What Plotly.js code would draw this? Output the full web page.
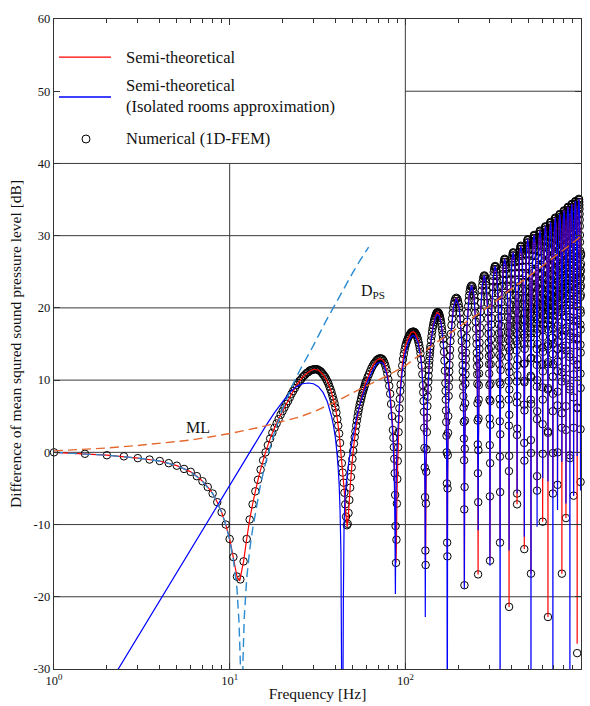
<!DOCTYPE html>
<html>
<head>
<meta charset="utf-8">
<script src="https://cdn.plot.ly/plotly-3.0.1.min.js"></script>
<style>
  html, body { margin: 0; padding: 0; background: #fff; }
  #chart { width: 590px; height: 706px; }
</style>
</head>
<body>
<div id="chart"></div>
<script>
// ---------------------------------------------------------------
// Level difference between the two rooms, [frequency Hz, dB] pairs
// ---------------------------------------------------------------

// Numerical (1D-FEM) results, low range (mass-spring-mass dip and first lobe)
const femLow = [
  [1,0.0],[1.5,-0.2],[2,-0.4],[2.5,-0.55],[3,-0.8],[3.5,-1.0],[4,-1.2],[4.5,-1.5],[5,-1.85],[5.5,-2.3],
  [6,-2.7],[6.5,-3.3],[7,-4.0],[7.5,-4.8],[8,-5.7],[8.5,-6.9],[9,-8.3],[9.5,-10.0],[10,-12.0],[10.5,-14.5],
  [11,-17.2],[11.5,-17.6],[12,-15.1],[12.5,-12.0],[13,-9.3],[13.5,-7.2],[14,-5.4],[14.5,-3.8],[15,-2.4],[15.5,-1.1],
  [16,0.0],[16.5,1.0],[17,1.9],[17.5,2.7],[18,3.4],[18.5,4.0],[19,4.6],[19.5,5.2],[20,5.7],[20.5,6.2],
  [21,6.7],[21.5,7.1],[22,7.6],[22.5,8.1],[23,8.5],[23.5,8.9],[24,9.3],[24.5,9.6],[25,9.9],[25.5,10.1],
  [26,10.4],[26.5,10.6],[27,10.8],[27.5,11.0],[28,11.1],[28.5,11.3],[29,11.4],[29.5,11.4],[30,11.5],[30.5,11.5],
  [31,11.5],[31.5,11.5],[32,11.4],[32.5,11.3],[33,11.2],[33.5,11.0],[34,10.8],[34.5,10.6],[35,10.4],[35.5,10.1],
  [36,9.8],[36.5,9.5],[37,9.1],[37.5,8.7],[38,8.3],[38.5,7.8],[39,7.3],[39.5,6.8],[40,6.2],[40.5,5.5],
  [41,4.6],[41.5,3.7],[42,2.6],[42.5,1.3],[43,-0.2],[43.5,-1.5],[44,-2.8],[44.5,-4.2],[45,-5.6],[45.5,-7.2],
  [46,-8.9],[46.5,-10.1]
];

// Numerical results, lobes 2 to 4
const femMid = [
  [47,-9.9],[47.5,-8.4],[48,-6.6],[48.5,-4.9],[49,-3.4],[49.5,-2.1],[50,-0.9],[50.5,0.2],[51,1.2],[51.5,2.1],
  [52,2.9],[52.5,3.7],[53,4.4],[53.5,5.0],[54,5.6],[54.5,6.1],[55,6.6],[55.5,7.0],[56,7.4],[56.5,7.8],
  [57,8.2],[57.5,8.5],[58,8.8],[58.5,9.1],[59,9.4],[59.5,9.7],[60,9.9],[61,10.4],[62,10.8],[63,11.2],
  [64,11.6],[65,11.9],[66,12.2],[67,12.4],[68,12.6],[69,12.8],[70,12.9],[71,13.0],[72,13.0],[73,13.0],
  [74,12.9],[75,12.7],[76,12.4],[77,12.0],[78,11.5],[79,10.9],[80,10.1],[81,9.2],[82,8.1],[83,6.7],
  [84,5.0],[85,3.1],[85.5,2.0],[86,0.7],[86.5,-0.9],[87,-2.9],[87.5,-5.9],[88,-10.2],[88.5,-15.3],
  [89,-12.1],[89.5,-7.1],[90,-3.7],[90.5,-1.2],[91,0.7],[91.5,2.8],[92,4.6],[92.5,6.1],[93,7.4],[93.5,8.5],
  [94,9.4],[95,10.9],[96,12.0],[97,12.9],[98,13.6],[99,14.2],[100,14.7],[101,15.05],[102,15.4],[103,15.65],
  [104,15.9],[105,16.1],[106,16.3],[107,16.45],[108,16.6],[109,16.65],[110,16.7],[111,16.7],[112,16.7],[113,16.6],
  [114,16.5],[115,16.35],[116,16.2],[117,15.9],[118,15.6],[119,15.2],[120,14.8],[121,14.3],[122,13.7],[123,12.9],
  [124,12.0],[125,10.8],[126,9.3],[126.5,8.3],[127,7.1],[127.5,5.6],[128,3.4],[128.5,0.6],[129,-2.1],[129.5,-6.2],
  [130,-13.6],[130.5,-15.6],
  [131,-7.1],[131.5,-2.7],[132,0.4],[132.5,2.8],[133,4.8],[133.5,6.4],[134,7.7],[134.5,8.8],[135,9.8],[135.5,10.6],
  [136,11.4],[136.5,12.1],[137,12.7],[137.5,13.3],[138,13.8],[138.5,14.3],[139,14.7],[140,15.5],[141,16.1],[142,16.7],
  [143,17.2],[144,17.6],[145,18.0],[146,18.3],[147,18.55],[148,18.8],[149,19.0],[150,19.2],[151,19.3],[152,19.4],
  [153,19.4],[154,19.35],[155,19.25],[156,19.1],[157,18.85],[158,18.6],[159,18.3],[160,17.9],[161,17.4],[162,16.9],
  [163,16.3],[164,15.7],[165,14.9],[166,13.9],[167,12.7],[168,11.3],[169,9.6],[169.5,8.5],[170,7.3],[170.5,5.8],
  [171,4.2],[171.5,2.3],[172,0.0],[172.5,-4.3],[173,-12.5]
];

// Numerical results, 173.5 Hz to 1 kHz, one row block per lobe
const femHigh = [
  // 173.5 - 216.7 Hz
  [173.5,-14.4],[174,-5.0],[174.5,-0.4],[175,2.7],[175.5,5.0],
  [176.4,7.8],[176.9,9.1],[177.3,10.2],[177.8,11.2],[178.3,12.1],[179.0,13.3],[179.7,14.2],[180.7,15.4],[181.7,16.4],[183.1,17.6],
  [184.5,18.5],[186.0,19.3],[187.4,20.0],[189.1,20.55],[190.8,20.96],[192.7,21.27],[195.1,21.4],[197.5,21.27],[199.4,20.96],[201.1,20.55],[202.8,20.0],[204.2,19.3],[205.7,18.5],
  [207.1,17.6],[208.5,16.4],[209.5,15.4],[210.5,14.2],[211.2,13.3],[211.9,12.1],[212.4,11.2],[212.9,10.2],[213.3,9.1],[213.8,7.8],
  [214.5,6.2],[215,4.2],[215.5,1.9],[216,-1.1],[216.5,-7.9],
  // 216.7 - 259.9 Hz
  [217,-18.4],[217.5,-4.8],[218,0.5],[218.5,4.4],[219,6.8],
  [219.6,9.5],[220.1,10.8],[220.5,11.9],[221.0,12.9],[221.5,13.8],[222.2,15.0],[222.9,15.9],[223.9,17.1],[224.9,18.1],[226.3,19.3],
  [227.7,20.2],[229.2,21.0],[230.6,21.7],[232.3,22.25],[234.0,22.66],[235.9,22.97],[238.3,23.1],[240.7,22.97],[242.6,22.66],[244.3,22.25],[246.0,21.7],[247.4,21.0],[248.9,20.2],
  [250.3,19.3],[251.7,18.1],[252.7,17.1],[253.7,15.9],[254.4,15.0],[255.1,13.8],[255.6,12.9],[256.1,11.9],[256.5,10.8],[257.0,9.5],
  [257.5,6.8],[258,4.4],[258.5,1.1],[259,-2.9],[259.5,-16.9],
  // 259.9 - 303.1 Hz
  [260,-6.9],[260.5,0.3],[261,4.7],[261.5,7.3],[262,9.3],
  [262.8,10.9],[263.3,12.2],[263.7,13.3],[264.2,14.3],[264.7,15.2],[265.4,16.4],[266.1,17.3],[267.1,18.5],[268.1,19.5],[269.5,20.7],
  [270.9,21.6],[272.4,22.4],[273.8,23.1],[275.5,23.65],[277.2,24.06],[279.1,24.37],[281.5,24.5],[283.9,24.37],[285.8,24.06],[287.5,23.65],[289.2,23.1],[290.6,22.4],[292.1,21.6],
  [293.5,20.7],[294.9,19.5],[295.9,18.5],[296.9,17.3],[297.6,16.4],[298.3,15.2],[298.8,14.3],[299.3,13.3],[299.7,12.2],[300.2,10.9],
  [301,9.3],[301.5,7.3],[302,4.7],[302.5,1.0],[303,-6.1],
  // 303.1 - 346.3 Hz
  [303.5,-15.0],[304,-1.5],[304.5,3.8],[305,7.1],[305.5,9.5],
  [306.0,12.2],[306.5,13.5],[306.9,14.6],[307.4,15.6],[307.9,16.5],[308.6,17.7],[309.3,18.6],[310.3,19.8],[311.3,20.8],[312.7,22.0],
  [314.1,22.9],[315.6,23.7],[317.0,24.4],[318.7,24.95],[320.4,25.36],[322.3,25.67],[324.7,25.8],[327.1,25.67],[329.0,25.36],[330.7,24.95],[332.4,24.4],[333.8,23.7],[335.3,22.9],
  [336.7,22.0],[338.1,20.8],[339.1,19.8],[340.1,18.6],[340.8,17.7],[341.5,16.5],[342.0,15.6],[342.5,14.6],[342.9,13.5],[343.4,12.2],
  [344,9.7],[344.5,7.4],[345,4.3],[345.5,-0.6],[346,-12.5],
  // 346.3 - 389.5 Hz
  [346.5,-5.5],[347,2.5],[347.5,6.6],[348,9.4],[348.5,11.4],
  [349.2,13.2],[349.7,14.5],[350.1,15.6],[350.6,16.6],[351.1,17.5],[351.8,18.7],[352.5,19.6],[353.5,20.8],[354.5,21.8],[355.9,23.0],
  [357.3,23.9],[358.8,24.7],[360.2,25.4],[361.9,25.95],[363.6,26.36],[365.5,26.67],[367.9,26.8],[370.3,26.67],[372.2,26.36],[373.9,25.95],[375.6,25.4],[377.0,24.7],[378.5,23.9],
  [379.9,23.0],[381.3,21.8],[382.3,20.8],[383.3,19.6],[384.0,18.7],[384.7,17.5],[385.2,16.6],[385.7,15.6],[386.1,14.5],[386.6,13.2],
  [387,11.9],[387.5,9.9],[388,7.3],[388.5,3.7],[389,-2.6],
  // 389.5 - 432.7 Hz
  [389.5,-21.4],[390,-0.5],[390.5,5.2],[391,8.7],[391.5,11.1],
  [392.4,14.1],[392.9,15.4],[393.3,16.5],[393.8,17.5],[394.3,18.4],[395.0,19.6],[395.7,20.5],[396.7,21.7],[397.7,22.7],[399.1,23.9],
  [400.5,24.8],[402.0,25.6],[403.4,26.3],[405.1,26.85],[406.8,27.26],[408.7,27.57],[411.1,27.7],[413.5,27.57],[415.4,27.26],[417.1,26.85],[418.8,26.3],[420.2,25.6],[421.7,24.8],
  [423.1,23.9],[424.5,22.7],[425.5,21.7],[426.5,20.5],[427.2,19.6],[427.9,18.4],[428.4,17.5],[428.9,16.5],[429.3,15.4],[429.8,14.1],
  [430.5,12.0],[431,9.8],[431.5,6.9],[432,2.4],[432.5,-7.2],
  // 432.7 - 475.9 Hz
  [433,-5.7],[433.5,3.3],[434,7.8],[434.5,10.7],[435,12.9],
  [435.6,15.0],[436.1,16.3],[436.5,17.4],[437.0,18.4],[437.5,19.3],[438.2,20.5],[438.9,21.4],[439.9,22.6],[440.9,23.6],[442.3,24.8],
  [443.7,25.7],[445.2,26.5],[446.6,27.2],[448.3,27.75],[450.0,28.16],[451.9,28.47],[454.3,28.6],[456.7,28.47],[458.6,28.16],[460.3,27.75],[462.0,27.2],[463.4,26.5],[464.9,25.7],
  [466.3,24.8],[467.7,23.6],[468.7,22.6],[469.7,21.4],[470.4,20.5],[471.1,19.3],[471.6,18.4],[472.1,17.4],[472.5,16.3],[473.0,15.0],
  [473.5,12.25],[474,9.9],[474.5,6.6],[475,1.3],[475.5,-13.4],
  // 475.9 - 519.1 Hz
  [476,-1.15],[476.5,5.8],[477,9.7],[477.5,12.3],[478,14.3],
  [478.8,15.9],[479.3,17.2],[479.7,18.3],[480.2,19.3],[480.7,20.2],[481.4,21.4],[482.1,22.3],[483.1,23.5],[484.1,24.5],[485.5,25.7],
  [486.9,26.6],[488.4,27.4],[489.8,28.1],[491.5,28.65],[493.2,29.06],[495.1,29.37],[497.5,29.5],[499.9,29.37],[501.8,29.06],[503.5,28.65],[505.2,28.1],[506.6,27.4],[508.1,26.6],
  [509.5,25.7],[510.9,24.5],[511.9,23.5],[512.9,22.3],[513.6,21.4],[514.3,20.2],[514.8,19.3],[515.3,18.3],[515.7,17.2],[516.2,15.9],
  [517,13.0],[517.5,10.6],[518,7.3],[518.5,1.7],[519,-16.8],
  // 519.1 - 562.3 Hz
  [519.5,-0.1],[520,6.7],[520.5,10.4],[521,13.1],[521.5,15.05],
  [522.0,16.5],[522.5,17.8],[522.9,18.9],[523.4,19.9],[523.9,20.8],[524.6,22.0],[525.3,22.9],[526.3,24.1],[527.3,25.1],[528.7,26.3],
  [530.1,27.2],[531.6,28.0],[533.0,28.7],[534.7,29.25],[536.4,29.66],[538.3,29.97],[540.7,30.1],[543.1,29.97],[545.0,29.66],[546.7,29.25],[548.4,28.7],[549.8,28.0],[551.3,27.2],
  [552.7,26.3],[554.1,25.1],[555.1,24.1],[556.1,22.9],[556.8,22.0],[557.5,20.8],[558.0,19.9],[558.5,18.9],[558.9,17.8],[559.4,16.5],
  [560,14.3],[560.5,12.1],[561,9.1],[561.5,4.6],[562,-5.3],
  // 562.3 - 605.5 Hz
  [562.5,-3.3],[563,5.7],[563.5,10.0],[564,12.9],[564.5,15.0],
  [565.2,17.1],[565.7,18.4],[566.1,19.5],[566.6,20.5],[567.1,21.4],[567.8,22.6],[568.5,23.5],[569.5,24.7],[570.5,25.7],[571.9,26.9],
  [573.3,27.8],[574.8,28.6],[576.2,29.3],[577.9,29.85],[579.6,30.26],[581.5,30.57],[583.9,30.7],[586.3,30.57],[588.2,30.26],[589.9,29.85],[591.6,29.3],[593.0,28.6],[594.5,27.8],
  [595.9,26.9],[597.3,25.7],[598.3,24.7],[599.3,23.5],[600.0,22.6],[600.7,21.4],[601.2,20.5],[601.7,19.5],[602.1,18.4],[602.6,17.1],
  [603,14.5],[603.5,12.2],[604,9.0],[604.5,3.9],[605,-9.6],
  // 605.5 - 648.7 Hz
  [605.5,-0.2],[606,7.3],[606.5,11.2],[607,13.9],[607.5,16.0],
  [608.4,17.7],[608.9,19.0],[609.3,20.1],[609.8,21.1],[610.3,22.0],[611.0,23.2],[611.7,24.1],[612.7,25.3],[613.7,26.3],[615.1,27.5],
  [616.5,28.4],[618.0,29.2],[619.4,29.9],[621.1,30.45],[622.8,30.86],[624.7,31.17],[627.1,31.3],[629.5,31.17],[631.4,30.86],[633.1,30.45],[634.8,29.9],[636.2,29.2],[637.7,28.4],
  [639.1,27.5],[640.5,26.3],[641.5,25.3],[642.5,24.1],[643.2,23.2],[643.9,22.0],[644.4,21.1],[644.9,20.1],[645.3,19.0],[645.8,17.7],
  [646.5,14.7],[647,12.2],[647.5,8.7],[648,2.9],[648.5,-22.8],
  // 648.7 - 691.9 Hz
  [649,2.7],[649.5,8.9],[650,12.5],[650.5,15.0],[651,17.0],
  [651.6,18.3],[652.1,19.6],[652.5,20.7],[653.0,21.7],[653.5,22.6],[654.2,23.8],[654.9,24.7],[655.9,25.9],[656.9,26.9],[658.3,28.1],
  [659.7,29.0],[661.2,29.8],[662.6,30.5],[664.3,31.05],[666.0,31.46],[667.9,31.77],[670.3,31.9],[672.7,31.77],[674.6,31.46],[676.3,31.05],[678.0,30.5],[679.4,29.8],[680.9,29.0],
  [682.3,28.1],[683.7,26.9],[684.7,25.9],[685.7,24.7],[686.4,23.8],[687.1,22.6],[687.6,21.7],[688.1,20.7],[688.5,19.6],[689.0,18.3],
  [689.5,15.9],[690,13.6],[690.5,10.5],[691,5.7],[691.5,-5.7],
  // 691.9 - 735.1 Hz
  [692,-0.1],[692.5,8.1],[693,12.2],[693.5,15.0],[694,17.1],
  [694.8,18.9],[695.3,20.2],[695.7,21.3],[696.2,22.3],[696.7,23.2],[697.4,24.4],[698.1,25.3],[699.1,26.5],[700.1,27.5],[701.5,28.7],
  [702.9,29.6],[704.4,30.4],[705.8,31.1],[707.5,31.65],[709.2,32.06],[711.1,32.37],[713.5,32.5],[715.9,32.37],[717.8,32.06],[719.5,31.65],[721.2,31.1],[722.6,30.4],[724.1,29.6],
  [725.5,28.7],[726.9,27.5],[727.9,26.5],[728.9,25.3],[729.6,24.4],[730.3,23.2],[730.8,22.3],[731.3,21.3],[731.7,20.2],[732.2,18.9],
  [733,16.5],[733.5,14.3],[734,11.25],[734.5,6.5],[735,-4.5],
  // 735.1 - 778.3 Hz
  [735.5,0.0],[736,8.4],[736.5,12.55],[737,15.4],[737.5,17.5],
  [738.0,19.4],[738.5,20.7],[738.9,21.8],[739.4,22.8],[739.9,23.7],[740.6,24.9],[741.3,25.8],[742.3,27.0],[743.3,28.0],[744.7,29.2],
  [746.1,30.1],[747.6,30.9],[749.0,31.6],[750.7,32.15],[752.4,32.56],[754.3,32.87],[756.7,33.0],[759.1,32.87],[761.0,32.56],[762.7,32.15],[764.4,31.6],[765.8,30.9],[767.3,30.1],
  [768.7,29.2],[770.1,28.0],[771.1,27.0],[772.1,25.8],[772.8,24.9],[773.5,23.7],[774.0,22.8],[774.5,21.8],[774.9,20.7],[775.4,19.4],
  [776,18.0],[776.5,16.1],[777,13.5],[777.5,9.8],[778,3.4],
  // 778.3 - 821.5 Hz
  [778.5,-16.8],[779,5.4],[779.5,11.1],[780,14.5],[780.5,16.9],
  [781.2,19.9],[781.7,21.2],[782.1,22.3],[782.6,23.3],[783.1,24.2],[783.8,25.4],[784.5,26.3],[785.5,27.5],[786.5,28.5],[787.9,29.7],
  [789.3,30.6],[790.8,31.4],[792.2,32.1],[793.9,32.65],[795.6,33.06],[797.5,33.37],[799.9,33.5],[802.3,33.37],[804.2,33.06],[805.9,32.65],[807.6,32.1],[809.0,31.4],[810.5,30.6],
  [811.9,29.7],[813.3,28.5],[814.3,27.5],[815.3,26.3],[816.0,25.4],[816.7,24.2],[817.2,23.3],[817.7,22.3],[818.1,21.2],[818.6,19.9],
  [819,17.2],[819.5,14.8],[820,11.6],[820.5,6.4],[821,-9.1],
  // 821.5 - 864.7 Hz
  [821.5,3.1],[822,10.2],[822.5,14.1],[823,16.8],[823.5,18.8],
  [824.4,20.4],[824.9,21.7],[825.3,22.8],[825.8,23.8],[826.3,24.7],[827.0,25.9],[827.7,26.8],[828.7,28.0],[829.7,29.0],[831.1,30.2],
  [832.5,31.1],[834.0,31.9],[835.4,32.6],[837.1,33.15],[838.8,33.56],[840.7,33.87],[843.1,34.0],[845.5,33.87],[847.4,33.56],[849.1,33.15],[850.8,32.6],[852.2,31.9],[853.7,31.1],
  [855.1,30.2],[856.5,29.0],[857.5,28.0],[858.5,26.8],[859.2,25.9],[859.9,24.7],[860.4,23.8],[860.9,22.8],[861.3,21.7],[861.8,20.4],
  [862.5,18.3],[863,16.1],[863.5,13.2],[864,8.7],[864.5,-0.8],
  // 864.7 - 907.9 Hz
  [865,-0.4],[865.5,9.1],[866,13.6],[866.5,16.5],[867,18.7],
  [867.6,20.8],[868.1,22.1],[868.5,23.2],[869.0,24.2],[869.5,25.1],[870.2,26.3],[870.9,27.2],[871.9,28.4],[872.9,29.4],[874.3,30.6],
  [875.7,31.5],[877.2,32.3],[878.6,33.0],[880.3,33.55],[882.0,33.96],[883.9,34.27],[886.3,34.4],[888.7,34.27],[890.6,33.96],[892.3,33.55],[894.0,33.0],[895.4,32.3],[896.9,31.5],
  [898.3,30.6],[899.7,29.4],[900.7,28.4],[901.7,27.2],[902.4,26.3],[903.1,25.1],[903.6,24.2],[904.1,23.2],[904.5,22.1],[905.0,20.8],
  [905.5,18.2],[906,15.9],[906.5,12.7],[907,7.6],[907.5,-6.0],
  // 907.9 - 951.1 Hz
  [908,3.4],[908.5,10.8],[909,14.8],[909.5,17.5],[910,19.5],
  [910.8,21.2],[911.3,22.5],[911.7,23.6],[912.2,24.6],[912.7,25.5],[913.4,26.7],[914.1,27.6],[915.1,28.8],[916.1,29.8],[917.5,31.0],
  [918.9,31.9],[920.4,32.7],[921.8,33.4],[923.5,33.95],[925.2,34.36],[927.1,34.67],[929.5,34.8],[931.9,34.67],[933.8,34.36],[935.5,33.95],[937.2,33.4],[938.6,32.7],[940.1,31.9],
  [941.5,31.0],[942.9,29.8],[943.9,28.8],[944.9,27.6],[945.6,26.7],[946.3,25.5],[946.8,24.6],[947.3,23.6],[947.7,22.5],[948.2,21.2],
  [949,18.1],[949.5,15.6],[950,12.1],[950.5,6.2],[951,-27.8],
  // 951.1 - 994.3 Hz
  [951.5,6.1],[952,12.2],[952.5,15.8],[953,18.3],[953.5,20.2],
  [954.0,21.5],[954.5,22.8],[954.9,23.9],[955.4,24.9],[955.9,25.8],[956.6,27.0],[957.3,27.9],[958.3,29.1],[959.3,30.1],[960.7,31.3],
  [962.1,32.2],[963.6,33.0],[965.0,33.7],[966.7,34.25],[968.4,34.66],[970.3,34.97],[972.7,35.1],[975.1,34.97],[977.0,34.66],[978.7,34.25],[980.4,33.7],[981.8,33.0],[983.3,32.2],
  [984.7,31.3],[986.1,30.1],[987.1,29.1],[988.1,27.9],[988.8,27.0],[989.5,25.8],[990.0,24.9],[990.5,23.9],[990.9,22.8],[991.4,21.5],
  [992,19.7],[992.5,17.7],[993,14.9],[993.5,10.9],[994,3.2],
  // 994.3 - 1000 Hz
  [994.5,-4.1],[995,8.9],[995.5,13.8],[996,17.0],[996.5,19.3],
  [997.2,21.8],[997.7,23.1],[998.1,24.2],[998.6,25.2],[999.1,26.1],[999.8,27.3],[1000,27.5]
];

// Semi-theoretical curve, up to 203 Hz
const semiLow = [
  [1,0.0],[2,-0.4],[3,-0.8],[4,-1.2],[5,-1.85],[6,-2.7],[6.5,-3.3],[7,-4.0],[7.5,-4.8],[8,-5.7],
  [8.5,-6.9],[9,-8.3],[9.5,-10.0],[10,-12.0],[10.5,-14.6],[11,-17.2],[11.4,-17.8],[12,-15.1],[12.5,-12.0],[13,-9.3],
  [13.5,-7.2],[14,-5.4],[14.5,-3.8],[15,-2.4],[16,0.0],[17,1.9],[18,3.4],[19,4.6],[20,5.7],[22,7.6],
  [24,9.3],[26,10.4],[28,11.1],[30,11.5],[32,11.4],[34,10.8],[36,9.8],[38,8.3],[40,6.2],[41,4.6],
  [42,2.6],[43,-0.2],[44,-2.8],[45,-5.6],[46,-8.9],[46.7,-10.3],[47.5,-8.4],[48.5,-4.9],[49.5,-2.1],[50.5,0.2],
  [52,2.9],[54,5.6],[56,7.4],[58,8.8],[60,9.9],[63,11.2],[66,12.2],[69,12.8],[72,13.0],[75,12.7],
  [78,11.5],[80,10.1],[82,8.1],[84,5.0],[85,3.1],[86,0.7],[87,-2.9],[87.5,-5.9],[88,-10.2],[88.5,-15.3],
  [89,-12.1],[89.5,-7.1],[90,-3.7],[91,0.7],[92,4.6],[93,7.4],[94,9.4],[96,12.0],[98,13.6],[100,14.7],
  [104,15.9],[108,16.6],[111,16.7],[114,16.5],[118,15.6],[122,13.7],[124,12.0],[126,9.3],[127,7.1],[128,3.4],
  [128.5,0.6],[129,-2.1],[129.5,-6.2],[130,-13.6],[130.4,-15.7],[131,-7.1],[131.5,-2.7],[132,0.4],[133,4.8],[134,7.7],
  [135,9.8],[137,12.7],[140,15.5],[144,17.6],[148,18.8],[152,19.4],[156,19.1],[160,17.9],[164,15.7],[167,12.7],
  [169,9.6],[170.5,5.8],[171.5,2.3],[172.5,-4.3],[173,-12.5],[173.5,-14.4],[174,-5.0],[174.5,-0.4],[175.5,5.0],[178,11.2],
  [180.5,15.4],[188,20.15],[195,21.4],[202.5,20.15]
];

// Semi-theoretical curve, 209 Hz to 1 kHz
const semiHigh = [
  [209.5,15.4],[213.5,9.1],[216,-1.1],[216.5,-7.9],[217,-18.4],[217.5,-4.8],[220,10.8],[224,17.1],[231,21.85],[238.5,23.1],[245.5,21.85],
  [252.5,17.1],[256.5,10.8],[259,-2.9],[259.5,-16.9],[260,-6.9],[260.5,0.3],[263.5,12.2],[267,18.5],[274.5,23.25],[281.5,24.5],[288.5,23.25],
  [296,18.5],[299.5,12.2],[302.5,1.0],[303,-6.1],[303.5,-15.0],[304,-1.5],[306.5,13.5],[310.5,19.8],[317.5,24.55],[324.5,25.8],[332,24.55],
  [339,19.8],[343,13.5],[345.5,-0.6],[346,-12.5],[346.5,-5.5],[347,2.5],[349.5,14.5],[353.5,20.8],[360.5,25.55],[368,26.8],[375,25.55],
  [382.5,20.8],[386,14.5],[388.5,3.7],[389,-2.6],[389.5,-21.4],[390,-0.5],[393,15.4],[396.5,21.7],[404,26.45],[411,27.7],[418.5,26.45],
  [425.5,21.7],[429.5,15.4],[432,2.4],[432.5,-7.2],[433,-5.7],[433.5,3.3],[436,16.3],[440,22.6],[447,27.35],[454.5,28.6],[461.5,27.35],
  [468.5,22.6],[472.5,16.3],[475,1.3],[475.5,-13.4],[476,-1.15],[476.5,5.8],[479.5,17.2],[483,23.5],[490.5,28.25],[497.5,29.5],[504.5,28.25],
  [512,23.5],[515.5,17.2],[518.5,1.7],[519,-16.8],[519.5,-0.1],[520,6.7],[522.5,17.8],[526.5,24.1],[533.5,28.85],[540.5,30.1],[548,28.85],
  [555,24.1],[559,17.8],[561.5,4.6],[562,-5.3],[562.5,-3.3],[563,5.7],[565.5,18.4],[569.5,24.7],[576.5,29.45],[584,30.7],[591,29.45],
  [598.5,24.7],[602,18.4],[604.5,3.9],[605,-9.6],[605.5,-0.2],[606,7.3],[609,19.0],[612.5,25.3],[620,30.05],[627,31.3],[634.5,30.05],
  [641.5,25.3],[645.5,19.0],[648,2.9],[648.5,-22.8],[649,2.7],[649.5,8.9],[652,19.6],[656,25.9],[663,30.65],[670.5,31.9],[677.5,30.65],
  [684.5,25.9],[688.5,19.6],[691,5.7],[691.5,-5.7],[692,-0.1],[692.5,8.1],[695.5,20.2],[699,26.5],[706.5,31.25],[713.5,32.5],[720.5,31.25],
  [728,26.5],[731.5,20.2],[734.5,6.5],[735,-4.5],[735.5,0.0],[736,8.4],[738.5,20.7],[742.5,27.0],[749.5,31.75],[756.5,33.0],[764,31.75],
  [771,27.0],[775,20.7],[777.5,9.8],[778,3.4],[778.5,-16.8],[779,5.4],[781.5,21.2],[785.5,27.5],[792.5,32.25],[800,33.5],[807,32.25],
  [814.5,27.5],[818,21.2],[820.5,6.4],[821,-9.1],[821.5,3.1],[822,10.2],[825,21.7],[828.5,28.0],[836,32.75],[843,34.0],[850.5,32.75],
  [857.5,28.0],[861.5,21.7],[864,8.7],[864.5,-0.8],[865,-0.4],[865.5,9.1],[868,22.1],[872,28.4],[879,33.15],[886.5,34.4],[893.5,33.15],
  [900.5,28.4],[904.5,22.1],[907,7.6],[907.5,-6.0],[908,3.4],[908.5,10.8],[911.5,22.5],[915,28.8],[922.5,33.55],[929.5,34.8],[936.5,33.55],
  [944,28.8],[947.5,22.5],[950.5,6.2],[951,-26.5],[951.5,6.1],[952,12.2],[954.5,22.8],[958.5,29.1],[965.5,33.85],[972.5,35.1],[980,33.85],
  [987,29.1],[991,22.8],[993.5,10.9],[994,3.2],[994.5,-4.1],[995,8.9],[997,21.6],[1000,27.5]
];

// Semi-theoretical curve with the isolated rooms approximation, up to 203 Hz
const isoLow = [
  [2,-32.6],[16,3.6],[18,5.5],[20,7.0],[22,8.3],[24,9.1],[26,9.5],[28,9.6],[30,9.5],[32,9.1],
  [34,8.3],[36,7.0],[38,5.0],[39,3.7],[40,2.0],[40.8,0.0],[41.5,-2.3],[42,-4.5],[42.5,-8.0],[43,-14.0],
  [43.8,-50],[44.4,-20],[44.8,-10],[45.3,-6.5],[46,-4.5],[47,-2.5],[48,-0.8],[50,1.8],[52,4.0],[54,5.8],
  [56,7.2],[58,8.4],[60,9.4],[63,10.6],[66,11.6],[69,12.3],[72,12.5],[75,12.3],[78,11.0],[80,9.6],
  [82,7.4],[84,4.2],[85,2.0],[86,-1.0],[86.5,-3.5],[87,-7.5],[87.4,-13],[87.8,-19.6],[88.3,-9],[88.8,-3.5],
  [89.5,0.0],[90.5,2.5],[92,5.6],[94,8.8],[96,11.1],[98,12.7],[100,13.8],[104,15.3],[108,16.0],[111,16.2],
  [114,16.0],[118,15.2],[122,13.4],[124,11.8],[126,9.0],[127,6.9],[128,3.2],[129,-2.3],[129.5,-7.0],[129.9,-22.8],
  [130.4,-8.0],[131,-2.5],[131.5,0.5],[133,4.9],[135,9.6],[137,12.5],[140,15.3],[144,17.4],[148,18.6],[152,19.1],
  [156,18.9],[160,17.8],[164,15.6],[167,12.6],[169,9.5],[170.5,5.7],[171.5,2.2],[172.5,-4.4],[173.3,-45],[174,-5.0],
  [174.5,-0.4],[175.5,5.0],[178,11.2],[180.5,15.4],[188,20.1],[195,21.3],[202.5,20.1]
];

// Isolated rooms approximation, 209 Hz to 1 kHz
const isoHigh = [
  [209.5,15.4],[213.5,9.1],[216,-1.1],[216.7,-18.9],[217.5,-4.8],[220,10.8],[224,17.1],[231,21.85],[238.5,23.1],[245.5,21.85],
  [252.5,17.1],[256.5,10.8],[259,-2.9],[259.9,-10.8],[260.5,0.3],[263.5,12.2],[267,18.5],[274.5,23.25],[281.5,24.5],[288.5,23.25],
  [296,18.5],[299.5,12.2],[302.5,1.0],[303.1,-15.7],[304,-1.5],[306.5,13.5],[310.5,19.8],[317.5,24.55],[324.5,25.8],[332,24.55],
  [339,19.8],[343,13.5],[345.5,-0.6],[346.3,-45],[347,2.5],[349.5,14.5],[353.5,20.8],[360.5,25.55],[368,26.8],[375,25.55],
  [382.5,20.8],[386,14.5],[389,-2.6],[389.5,-13.6],[390,-0.5],[393,15.4],[396.5,21.7],[404,26.45],[411,27.7],[418.5,26.45],
  [425.5,21.7],[429.5,15.4],[432,2.4],[432.7,-5.7],[433.5,3.3],[436,16.3],[440,22.6],[447,27.35],[454.5,28.6],[461.5,27.35],
  [468.5,22.6],[472.5,16.3],[475,1.3],[475.9,-11.7],[476.5,5.8],[479.5,17.2],[483,23.5],[490.5,28.25],[497.5,29.5],[504.5,28.25],
  [512,23.5],[515.5,17.2],[518.5,1.7],[519.1,-45],[520,6.7],[522.5,17.8],[526.5,24.1],[533.5,28.85],[540.5,30.1],[548,28.85],
  [555,24.1],[559,17.8],[561.5,4.6],[562.3,-10.3],[563,5.7],[565.5,18.4],[569.5,24.7],[576.5,29.45],[584,30.7],[591,29.45],
  [598.5,24.7],[602,18.4],[604.5,3.9],[605.3,-3.6],[606,7.3],[609,19.0],[612.5,25.3],[620,30.05],[627,31.3],[634.5,30.05],
  [641.5,25.3],[645.5,19.0],[648,2.9],[648.7,-4.0],[649.5,8.9],[652,19.6],[656,25.9],[663,30.65],[670.5,31.9],[677.5,30.65],
  [684.5,25.9],[688.5,19.6],[691,5.7],[691.9,-45],[692.5,8.1],[695.5,20.2],[699,26.5],[706.5,31.25],[713.5,32.5],[720.5,31.25],
  [728,26.5],[731.5,20.2],[734.5,6.5],[735.1,-8.0],[736,8.4],[738.5,20.7],[742.5,27.0],[749.5,31.75],[756.5,33.0],[764,31.75],
  [771,27.0],[775,20.7],[777.5,9.8],[778.3,-1.3],[779,5.4],[781.5,21.2],[785.5,27.5],[792.5,32.25],[800,33.5],[807,32.25],
  [814.5,27.5],[818,21.2],[820.5,6.4],[821.3,-7.1],[822,10.2],[825,21.7],[828.5,28.0],[836,32.75],[843,34.0],[850.5,32.75],
  [857.5,28.0],[861.5,21.7],[864,8.7],[864.7,-45],[865.5,9.1],[868,22.1],[872,28.4],[879,33.15],[886.5,34.4],[893.5,33.15],
  [900.5,28.4],[904.5,22.1],[907,7.6],[907.6,-6.0],[908.5,10.8],[911.5,22.5],[915,28.8],[922.5,33.55],[929.5,34.8],[936.5,33.55],
  [944,28.8],[947.5,22.5],[950.5,6.2],[951.1,-0.5],[952,12.2],[954.5,22.8],[958.5,29.1],[965.5,33.85],[972.5,35.1],[980,33.85],
  [987,29.1],[991,22.8],[993.5,10.9],[994.3,-5.3],[995,8.9],[997,21.6],[1000,27.5]
];

// Mass law (ML)
const massLaw = [
  [1,0.2],[2,0.6],[3,0.95],[4,1.25],[6,1.7],[8,2.2],[10,2.6],[15,3.5],[20,4.3],[25,4.9],
  [30,5.6],[40,7.0],[60,9.2],[80,10.7],[100,12.0],[150,15.2],[200,17.3],[300,20.2],[400,22.6],[500,24.3],
  [700,27.0],[1000,29.9]
];

// D_PS curve
const dps = [
  [1,0.0],[2,-0.4],[3,-0.8],[4,-1.2],[5,-1.85],[6,-2.7],[7,-4.0],[8,-5.7],[9,-8.3],[9.5,-10.0],
  [10,-12.1],[10.5,-14.9],[11,-18.8],[11.3,-23.5],[11.5,-29],[11.7,-45],[11.9,-29],[12.1,-23],[12.5,-17.5],[13,-13.5],
  [13.5,-10.7],[14,-8.3],[15,-4.4],[16,-1.5],[18,2.8],[20,6.0],[22.5,9.0],[25,11.3],[30,14.8],[35,18.0],
  [40,20.6],[45,22.8],[50,24.8],[55,26.5],[61.8,28.4]
];

// Axis ticks
const xTickVals = [1, 10, 100, 1000];
const xTickText = ['10<sup>0</sup>', '10<sup>1</sup>', '10<sup>2</sup>', '10<sup>3</sup>'];
const xMinorVals = [2,3,4,5,6,7,8,9, 20,30,40,50,60,70,80,90, 200,300,400,500,600,700,800,900];
const yTickVals = [-30, -20, -10, 0, 10, 20, 30, 40, 50, 60];
const yTickText = ['-30', '-20', '-10', '0', '10', '20', '30', '40', '50', '60'];

// ---------------------------------------------------------------
const SERIF = '"Liberation Serif", "Times New Roman", Times, serif';
const col = (pts, i) => pts.map(p => p[i]);
const fem = femLow.concat(femMid, femHigh);
const semi = semiLow.concat(semiHigh);
const iso = isoLow.concat(isoHigh);

const traces = [
  {
    name: 'Numerical (1D-FEM)', type: 'scatter', mode: 'markers',
    x: col(fem, 0), y: col(fem, 1), cliponaxis: false,
    marker: { symbol: 'circle-open', size: 7.5, color: '#000', line: { width: 1, color: '#000' } }
  },
  {
    name: 'Semi-theoretical', type: 'scatter', mode: 'lines',
    x: col(semi, 0), y: col(semi, 1),
    line: { color: '#ff0000', width: 1.2, simplify: false }
  },
  {
    name: 'Semi-theoretical (Isolated rooms approximation)', type: 'scatter', mode: 'lines',
    x: col(iso, 0), y: col(iso, 1),
    line: { color: '#0000ff', width: 1.2, simplify: false }
  },
  {
    name: 'ML', type: 'scatter', mode: 'lines',
    x: col(massLaw, 0), y: col(massLaw, 1),
    line: { color: '#e4692e', width: 1.4, dash: '9px,5px' }
  },
  {
    name: 'DPS', type: 'scatter', mode: 'lines',
    x: col(dps, 0), y: col(dps, 1),
    line: { color: '#2a8ad2', width: 1.4, dash: '9px,5px' }
  }
];

// grid lines (kept clear of the legend block in the upper-left corner)
const GRID = { color: '#3a3a3a', width: 1 };
const hGrid = (y, x0) => ({ type: 'line', xref: 'paper', yref: 'y', x0: x0, x1: 1, y0: y, y1: y, line: GRID, layer: 'below' });
const vGrid = (xFrac, yTop) => ({ type: 'line', xref: 'paper', yref: 'y', x0: xFrac, x1: xFrac, y0: -30, y1: yTop, line: GRID, layer: 'below' });
const gridShapes = [
  hGrid(-20, 0), hGrid(-10, 0), hGrid(0, 0), hGrid(10, 0), hGrid(20, 0), hGrid(30, 0), hGrid(40, 0),
  hGrid(50, 2 / 3),
  vGrid(1 / 3, 40), vGrid(2 / 3, 60)
];

// legend block drawn in the upper-left corner of the plot area
const legendFont = { family: SERIF, size: 16.5, color: '#111' };
const textX = 0.1328;
const legendShapes = [
  { type: 'line', xref: 'paper', yref: 'paper', x0: 0.0095, x1: 0.1082, y0: 0.9415, y1: 0.9415,
    line: { color: '#ff0000', width: 1.3 }, layer: 'above' },
  { type: 'line', xref: 'paper', yref: 'paper', x0: 0.0095, x1: 0.1082, y0: 0.88, y1: 0.88,
    line: { color: '#0000ff', width: 1.3 }, layer: 'above' },
  { type: 'circle', xref: 'paper', yref: 'paper', xsizemode: 'pixel', ysizemode: 'pixel',
    xanchor: 0.0607, yanchor: 0.8154, x0: -4, x1: 4, y0: -4, y1: 4,
    line: { color: '#000', width: 1 }, fillcolor: 'rgba(0,0,0,0)', layer: 'above' }
];

const layout = {
  width: 590, height: 706,
  margin: { l: 54, r: 9, t: 19, b: 37, pad: 0 },
  paper_bgcolor: '#fff', plot_bgcolor: '#fff',
  font: { family: SERIF, size: 12.5, color: '#111' },
  showlegend: false,
  xaxis: {
    type: 'log', range: [0, 3],
    tickmode: 'array', tickvals: xTickVals, ticktext: xTickText,
    ticks: 'inside', ticklen: 6, tickwidth: 1, tickcolor: '#333',
    minor: { tickmode: 'array', tickvals: xMinorVals, ticks: 'inside', ticklen: 4, tickwidth: 1, tickcolor: '#333', showgrid: false },
    showline: true, linecolor: '#333', linewidth: 1.3, mirror: 'ticks',
    showgrid: false, zeroline: false,
    tickfont: { family: SERIF, size: 12.5, color: '#111' },
    title: { text: 'Frequency [Hz]', font: { family: SERIF, size: 15.5, color: '#111' }, standoff: 1 }
  },
  yaxis: {
    range: [-30, 60],
    tickmode: 'array', tickvals: yTickVals, ticktext: yTickText,
    ticks: 'inside', ticklen: 6, tickwidth: 1, tickcolor: '#333',
    showline: true, linecolor: '#333', linewidth: 1.3, mirror: 'ticks',
    showgrid: false, zeroline: false,
    tickfont: { family: SERIF, size: 12.5, color: '#111' },
    title: { text: 'Difference of mean squred sound pressure level [dB]', font: { family: SERIF, size: 15.5, color: '#111' }, standoff: 8 }
  },
  shapes: gridShapes.concat(legendShapes),
  annotations: [
    { xref: 'paper', yref: 'paper', x: textX, y: 0.9415, xanchor: 'left', yanchor: 'middle',
      text: 'Semi-theoretical', showarrow: false, font: legendFont },
    { xref: 'paper', yref: 'paper', x: textX, y: 0.8815, xanchor: 'left', yanchor: 'middle', align: 'left',
      text: 'Semi-theoretical<br>(Isolated rooms approximation)', showarrow: false, font: legendFont },
    { xref: 'paper', yref: 'paper', x: textX, y: 0.8154, xanchor: 'left', yanchor: 'middle',
      text: 'Numerical (1D-FEM)', showarrow: false, font: legendFont },
    { xref: 'paper', yref: 'paper', x: 0.2732, y: 0.3708, xanchor: 'center', yanchor: 'middle',
      text: 'ML', showarrow: false, font: { family: SERIF, size: 16, color: '#111' } },
    { xref: 'paper', yref: 'paper', x: 0.5787, y: 0.5805, xanchor: 'left', yanchor: 'middle',
      text: 'D<sub>PS</sub>', showarrow: false, font: { family: SERIF, size: 16, color: '#111' } }
  ]
};

Plotly.newPlot('chart', traces, layout, { displayModeBar: false, staticPlot: true });
</script>
</body>
</html>
